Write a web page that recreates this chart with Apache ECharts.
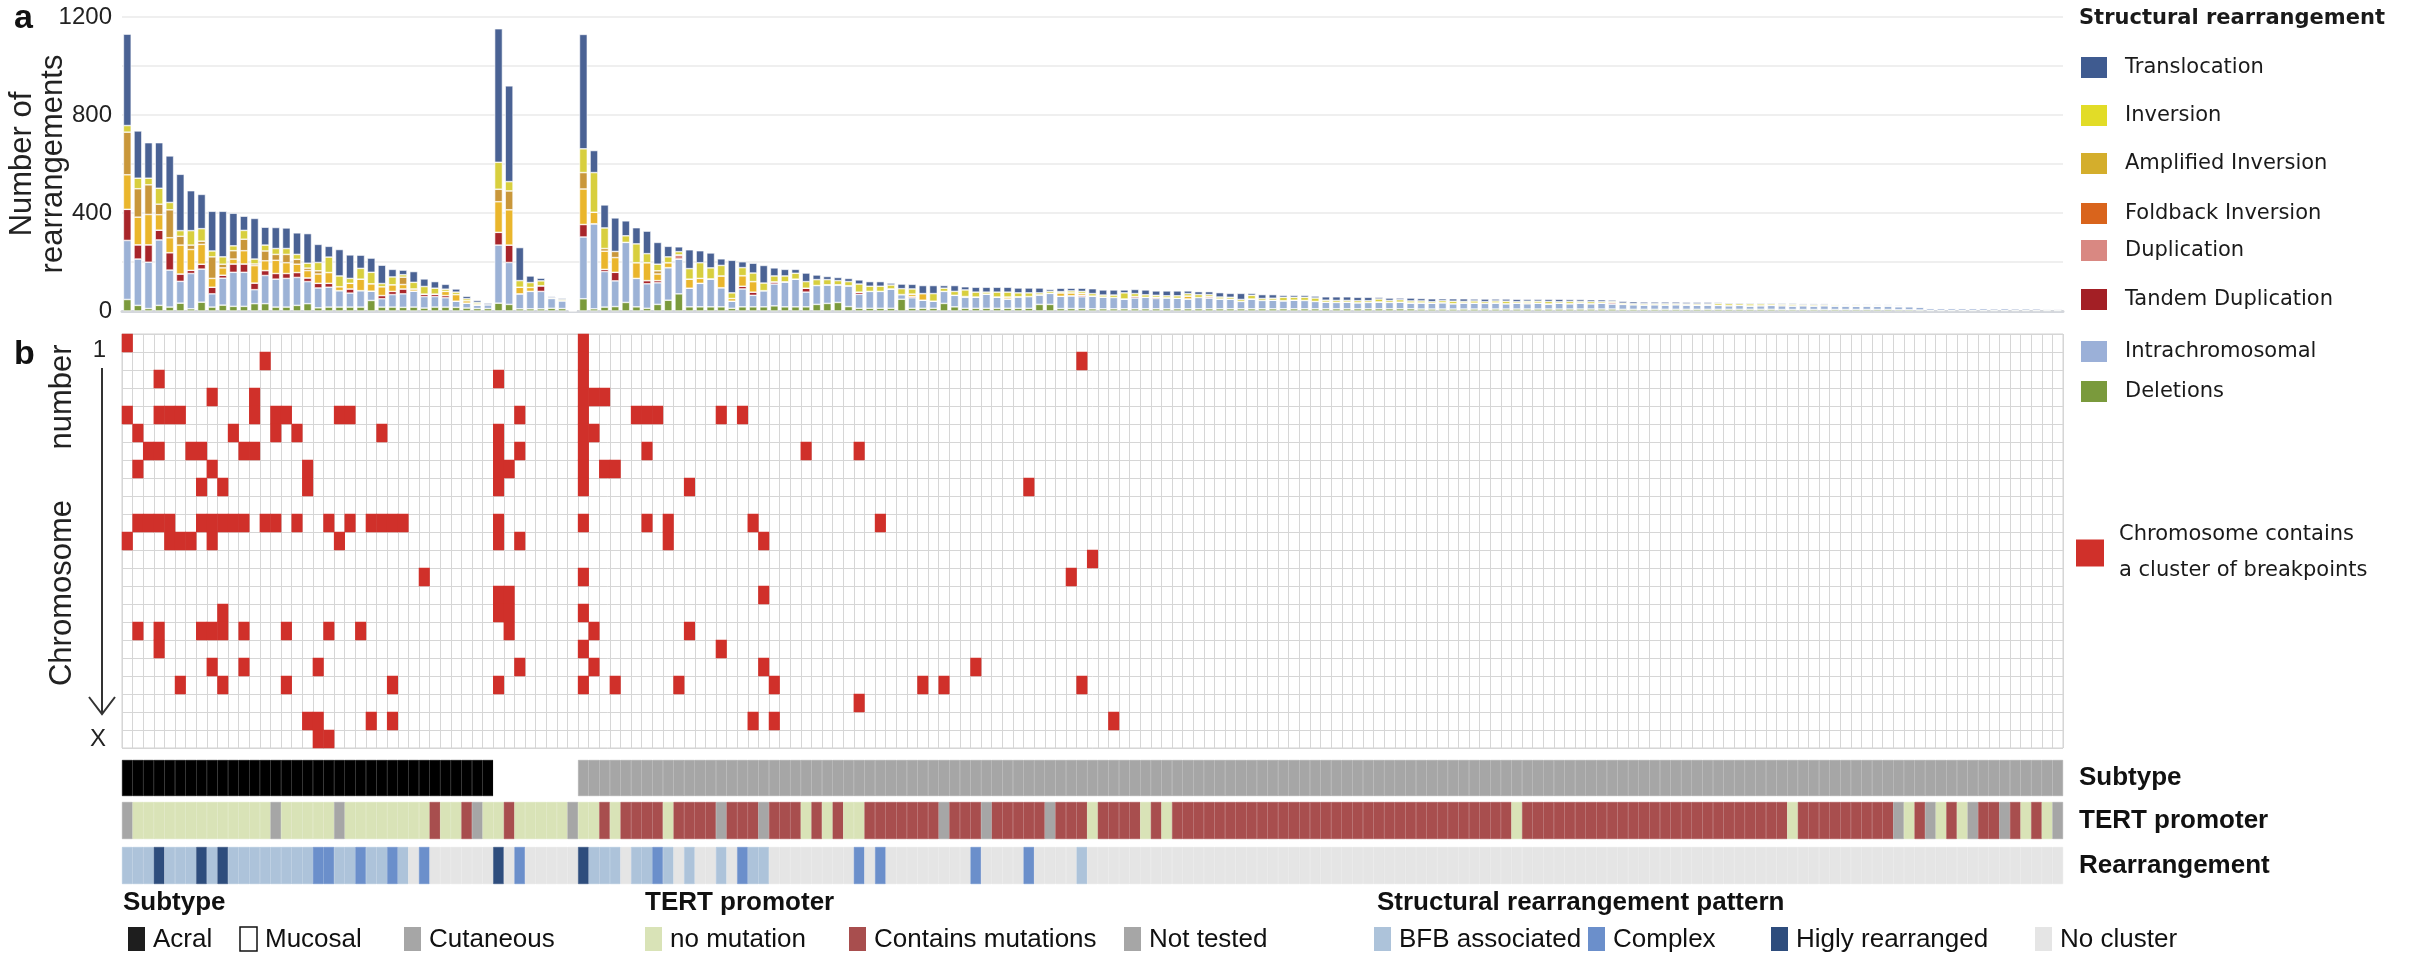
<!DOCTYPE html>
<html>
<head>
<meta charset="utf-8">
<script src="https://cdn.jsdelivr.net/npm/echarts/dist/echarts.min.js"></script>
<style>
  html, body { margin: 0; padding: 0; background: #fff; }
  #chart { width: 2433px; height: 956px; }
</style>
</head>
<body>
<div id="chart"></div>
<script>
// ---- samples (columns) and chromosomes (rows) ----
const sampleCount = 183;
const samples = Array.from({ length: sampleCount }, (_, i) => 'M' + String(i + 1).padStart(3, '0'));
const chromosomes = ['1','2','3','4','5','6','7','8','9','10','11','12','13','14','15','16','17','18','19','20','21','22','X'];

// ---- panel a: rearrangement counts per sample, one array per class ----
const deletions = [
  47,23,10,23,16,32,9,36,16,24, 19,19,30,30,16,16,23,30,13,16, 16,16,16,43,16,16,15,16,12,16, 16,15,12,10,10,
  32,27,9,9,9,11,10,0,
  50,9,16,18,35,17,11,
  27,44,70,17,17,17,17,11,17,17, 17,21,17,17,17,27,31,35,18,11, 11,11,11,48,11,11,11,31,17,11, 11,11,11,11,11,11,27,27,10,10,
  10,9,9,9,9,9,9,9,9,9, 9,9,9,9,9,9,9,9,9,9, 9,9,9,9,9,9,9,9,9,9, 9,9,8,8,8,8,8,8,8,8,
  8,8,8,8,8,8,8,8,8,8, 8,7,7,7,7,7,7,7,7,7, 7,7,7,7,7,7,6,6,6,6, 6,6,6,6,6,6,6,5,5,4,
  3,3,3,3,3,3,3,3,3,3,3,3,3
];
const intrachromosomal = [
  241,189,189,267,151,89,144,135,54,110, 139,139,57,115,114,117,114,90,81,81, 67,57,67,38,34,51,55,65,47,43, 38,25,20,14,16,
  237,171,61,71,71,40,32,3,
  252,347,145,105,245,116,100,
  88,133,142,76,96,114,78,29,73,47, 66,89,102,113,60,77,76,72,85,57, 69,69,79,19,43,33,29,49,47,45, 46,58,46,38,47,48,39,45,50,52,
  48,52,48,46,40,44,47,42,45,43, 40,46,44,40,39,30,40,34,35,33, 35,34,30,27,26,27,25,26,28,26, 27,24,25,24,26,22,25,24,23,25,
  22,24,22,24,21,24,22,25,22,24, 20,20,19,18,19,18,19,18,17,18, 16,15,16,14,15,16,16,15,16,15, 16,15,15,14,15,14,15,13,13,13,
  9,8,9,8,8,8,7,8,7,7,7,6,6
];
const tandemDuplication = [
  127,58,71,40,71,30,13,20,27,12, 34,34,27,20,23,20,20,15,19,16, 0,17,0,0,13,13,20,0,10,10, 9,0,0,0,0,
  52,71,0,0,23,0,0,0,
  51,0,9,35,0,0,13,
  9,0,0,0,0,0,0,0,11,13, 0,9,0,0,16,0,0,0,0,9, 0,0,0,0,5,0,0,0,0,3, 0,0,0,0,0,0,0,0,0,0,
  6,0,0,0,0,6,0,5,0,0, 0,0,0,0,0,0,0,0,0,0, 0,0,0,0,0,0,0,0,0,0, 0,0,0,0,0,0,0,0,0,0,
  0,0,0,0,0,0,0,0,0,0, 6,0,0,0,0,0,0,0,0,0, 0,0,0,0,0,0,0,0,0,0, 0,0,0,0,0,0,0,0,0,0,
  0,0,0,0,0,0,0,0,0,0,0,0,0
];
const duplication = [
  0,0,0,0,0,0,0,0,0,0, 0,0,0,0,0,0,0,0,0,0, 0,0,0,0,0,0,0,0,0,0, 0,0,0,0,0,
  0,0,0,0,0,0,0,0,
  0,0,0,0,0,0,0,
  0,0,17,0,0,0,0,0,0,0, 0,0,0,0,0,0,0,0,0,0, 0,0,0,0,0,0,0,0,0,0, 0,0,0,0,0,0,0,0,0,0,
  0,0,0,0,0,0,0,0,0,0, 0,0,6,0,0,0,0,0,0,0, 0,0,0,0,0,0,0,0,0,0, 0,0,0,0,0,0,0,0,0,0,
  0,0,0,0,0,0,0,0,0,0, 0,0,0,0,0,0,0,0,0,0, 0,0,0,0,0,0,0,0,0,0, 0,0,0,0,0,0,0,0,0,0,
  0,0,0,0,0,0,0,0,0,0,0,0,0
];
const foldbackInversion = [
  141,113,124,63,61,118,85,81,36,30, 20,54,71,40,54,44,34,30,38,44, 16,23,47,30,36,27,18,9,0,0, 17,27,10,5,0,
  125,144,27,16,0,0,0,0,
  145,47,74,60,0,64,73,
  27,20,0,37,20,0,48,11,43,43, 0,0,0,0,0,0,0,0,0,0, 0,0,0,0,10,27,0,0,0,0, 0,0,0,8,0,0,0,0,14,12,
  8,0,0,0,0,0,0,0,0,0, 12,0,0,0,0,0,0,0,0,0, 0,0,0,0,0,0,0,0,0,0, 0,0,0,0,0,0,0,0,0,0,
  0,0,4,0,0,0,0,0,0,0, 0,0,0,0,0,0,0,0,0,0, 0,0,0,0,0,0,0,0,0,0, 0,0,0,0,0,0,0,0,0,0,
  0,0,0,0,0,0,0,0,0,0,0,0,0
];
const amplifiedInversion = [
  174,116,121,43,114,36,18,13,88,15, 34,47,7,40,24,34,20,10,13,0, 0,0,0,0,0,0,30,0,0,0, 0,0,0,0,0,
  51,77,0,0,0,0,0,0,
  67,0,11,25,0,0,0,
  13,0,0,0,0,0,0,0,0,0, 0,0,0,0,0,0,0,0,0,0, 0,0,0,0,0,0,0,0,0,0, 0,0,0,0,0,0,0,0,0,0,
  0,0,0,0,0,0,0,0,0,0, 0,0,0,0,0,0,0,0,0,0, 0,0,0,0,0,0,0,0,0,0, 0,0,0,0,0,0,0,0,0,0,
  0,0,0,0,0,0,0,0,0,0, 0,0,0,0,0,0,0,0,0,0, 0,0,0,0,0,0,0,0,0,0, 0,0,0,0,0,0,0,0,0,0,
  0,0,0,0,0,0,0,0,0,0,0,0,0
];
const inversion = [
  27,43,27,65,30,23,59,51,24,30, 20,36,20,24,24,24,20,20,34,63, 44,20,44,47,13,32,10,27,31,24, 9,10,8,6,0,
  110,38,27,20,20,3,5,0,
  97,162,84,0,27,77,37,
  27,24,13,43,64,45,43,23,33,35, 31,24,24,24,27,24,21,17,17,33, 21,21,16,24,21,0,31,13,16,27, 20,8,20,20,16,15,8,8,5,8,
  8,10,8,10,25,12,10,8,8,10, 10,12,8,8,8,8,15,8,8,14, 12,13,14,8,8,7,8,7,12,8, 10,8,8,6,8,10,6,9,7,8,
  10,6,6,8,10,6,9,6,8,6, 5,5,4,5,4,5,4,4,5,4, 8,8,7,8,7,6,5,6,4,5, 4,4,3,4,3,3,2,2,2,1,
  0,1,0,0,1,0,0,1,0,1,0,0,1
];
const translocation = [
  373,193,145,186,190,230,163,140,162,186, 133,58,166,73,86,84,88,121,74,44, 108,96,54,58,75,31,19,44,31,27, 20,13,10,8,6,
  545,391,135,27,11,5,5,0,
  467,90,94,137,61,66,92,
  89,43,20,77,49,61,27,133,24,40, 72,33,27,16,35,19,13,13,13,17, 19,19,8,19,19,33,33,11,24,13, 20,20,20,20,20,20,20,8,14,11,
  13,20,21,21,12,17,20,18,20,20, 11,12,12,18,16,25,8,16,15,8, 8,8,8,14,15,15,14,14,7,10, 7,12,10,12,8,10,11,8,11,8,
  9,10,8,8,9,10,8,8,8,8, 6,8,8,7,7,7,7,7,7,7, 4,4,4,4,4,4,4,4,4,4, 4,3,3,3,3,3,3,3,2,2,
  2,1,1,2,0,1,2,0,1,0,1,1,0
];

// ---- panel b: [sample index, chromosome index] cells holding a breakpoint cluster ----
const clusterCells = [
  [0,0],[43,0],
  [13,1],[43,1],[90,1],
  [3,2],[35,2],[43,2],
  [8,3],[12,3],[43,3],[44,3],[45,3],
  [0,4],[3,4],[4,4],[5,4],[12,4],[14,4],[15,4],[20,4],[21,4],[37,4],[43,4],[48,4],[49,4],[50,4],[56,4],[58,4],
  [1,5],[10,5],[14,5],[16,5],[24,5],[35,5],[43,5],[44,5],
  [2,6],[3,6],[6,6],[7,6],[11,6],[12,6],[35,6],[37,6],[43,6],[49,6],[64,6],[69,6],
  [1,7],[8,7],[17,7],[35,7],[36,7],[43,7],[45,7],[46,7],
  [7,8],[9,8],[17,8],[35,8],[43,8],[53,8],[85,8],
  [1,10],[2,10],[3,10],[4,10],[7,10],[8,10],[9,10],[10,10],[11,10],[13,10],[14,10],[16,10],[19,10],[21,10],
  [23,10],[24,10],[25,10],[26,10],[35,10],[43,10],[49,10],[51,10],[59,10],[71,10],
  [0,11],[4,11],[5,11],[6,11],[8,11],[20,11],[35,11],[37,11],[51,11],[60,11],
  [91,12],
  [28,13],[43,13],[89,13],
  [35,14],[36,14],[60,14],
  [9,15],[35,15],[36,15],[43,15],
  [1,16],[3,16],[7,16],[8,16],[9,16],[11,16],[15,16],[19,16],[22,16],[36,16],[44,16],[53,16],
  [3,17],[43,17],[56,17],
  [8,18],[11,18],[18,18],[37,18],[44,18],[60,18],[80,18],
  [5,19],[9,19],[15,19],[25,19],[35,19],[43,19],[46,19],[52,19],[61,19],[75,19],[77,19],[90,19],
  [69,20],
  [17,21],[18,21],[23,21],[25,21],[59,21],[61,21],[93,21],
  [18,22],[19,22]
];

// ---- annotation tracks, stored as runs of [category, number of samples] ----
const subtypeRuns = [['Acral',35],['Mucosal',8],['Cutaneous',140]];
const tertRuns = [
  ['nt',1],['no',13],['nt',1],['no',5],['nt',1],['no',8],['mut',1],['no',2],['mut',1],['nt',1],['no',2],['mut',1],['no',5],['nt',1],
  ['no',2],['mut',1],['no',1],['mut',4],['no',1],['mut',4],['nt',1],['mut',3],['nt',1],['mut',3],['no',1],['mut',1],['no',1],['mut',1],
  ['no',2],['mut',7],['nt',1],['mut',3],['nt',1],['mut',5],['nt',1],['mut',3],['no',1],['mut',4],['no',1],['mut',1],['no',1],['mut',32],
  ['no',1],['mut',25],['no',1],['mut',9],['nt',1],['no',1],['mut',1],['nt',1],['no',1],['mut',1],['no',1],['nt',1],['mut',2],['nt',1],
  ['mut',1],['no',1],['mut',1],['no',1],['nt',1]
];
const patternRuns = [
  ['bfb',3],['high',1],['bfb',3],['high',1],['bfb',1],['high',1],['bfb',8],['cx',2],['bfb',2],['cx',1],['bfb',2],['cx',1],['bfb',1],
  ['none',1],['cx',1],['none',6],['high',1],['none',1],['cx',1],['none',5],['high',1],['bfb',3],['none',1],['bfb',2],['cx',1],['bfb',1],
  ['none',1],['bfb',1],['none',2],['bfb',1],['none',1],['cx',1],['bfb',2],['none',8],['cx',1],['none',1],['cx',1],['none',8],['cx',1],
  ['none',4],['cx',1],['none',4],['bfb',1],['none',92]
];

// ---- styling ----
const classOrder = ['Deletions','Intrachromosomal','Tandem Duplication','Duplication','Foldback Inversion','Amplified Inversion','Inversion','Translocation'];
const classValues = {
  'Deletions': deletions, 'Intrachromosomal': intrachromosomal, 'Tandem Duplication': tandemDuplication,
  'Duplication': duplication, 'Foldback Inversion': foldbackInversion, 'Amplified Inversion': amplifiedInversion,
  'Inversion': inversion, 'Translocation': translocation
};
const barColor = {
  'Deletions': '#7b9a3c', 'Intrachromosomal': '#9cb2d6', 'Tandem Duplication': '#a8252a', 'Duplication': '#d98a82',
  'Foldback Inversion': '#eab62c', 'Amplified Inversion': '#c9973a', 'Inversion': '#d8cf3e', 'Translocation': '#4a6294'
};
const keyColor = {
  'Deletions': '#7a9a3c', 'Intrachromosomal': '#9bb0d8', 'Tandem Duplication': '#a31f25', 'Duplication': '#d98882',
  'Foldback Inversion': '#d9641c', 'Amplified Inversion': '#d4ae2c', 'Inversion': '#e2dc27', 'Translocation': '#3f5b90'
};
const keyCenters = { 'Translocation': 67, 'Inversion': 115, 'Amplified Inversion': 163, 'Foldback Inversion': 213,
  'Duplication': 250, 'Tandem Duplication': 299, 'Intrachromosomal': 351, 'Deletions': 391 };
const subtypeColor = { 'Acral': '#000000', 'Mucosal': '#ffffff', 'Cutaneous': '#a6a6a6' };
const tertColor = { no: '#d9e3b7', mut: '#a84e4e', nt: '#a6a6a6' };
const patternColor = { bfb: '#adc3da', cx: '#6b8fcb', high: '#2e4d7d', none: '#e5e5e5' };
const clusterRed = '#d0302a';
const SANS = 'Liberation Sans, Arial, sans-serif';
const WIDE = 'DejaVu Sans, Verdana, sans-serif';

function expandRuns(runs) {
  const out = [];
  runs.forEach(([cat, n]) => { for (let k = 0; k < n; k++) out.push(cat); });
  return out;
}
function trackSeries(idx, cats, colors) {
  return {
    type: 'bar', xAxisIndex: idx, yAxisIndex: idx, silent: true, barCategoryGap: '0%',
    data: cats.map(c => ({ value: 1, itemStyle: { color: colors[c], borderColor: colors[c], borderWidth: 0.5 } }))
  };
}

const GL = 122, GR = 370;
const hiddenAxis = { axisLine: { show: false }, axisTick: { show: false }, axisLabel: { show: false }, splitLine: { show: false } };

const grids = [
  { left: GL, right: GR, top: 17, height: 294 },
  { left: GL, right: GR, top: 334, height: 414, show: true, borderColor: '#d3d3d3', borderWidth: 1 },
  { left: GL, right: GR, top: 760, height: 36 },
  { left: GL, right: GR, top: 802, height: 37 },
  { left: GL, right: GR, top: 847, height: 37 }
].map(g => Object.assign({ outerBoundsMode: 'none', containLabel: false }, g));

const xAxes = [
  { type: 'category', gridIndex: 0, data: samples, axisLine: { show: true, lineStyle: { color: '#d4d7dc', width: 3 } },
    axisTick: { show: false }, axisLabel: { show: false }, splitLine: { show: false } },
  { type: 'category', gridIndex: 1, data: samples, axisLine: { show: false }, axisTick: { show: false }, axisLabel: { show: false },
    splitLine: { show: true, interval: 0, lineStyle: { color: '#d6d6d6', width: 1 } } },
  Object.assign({ type: 'category', gridIndex: 2, data: samples }, hiddenAxis),
  Object.assign({ type: 'category', gridIndex: 3, data: samples }, hiddenAxis),
  Object.assign({ type: 'category', gridIndex: 4, data: samples }, hiddenAxis)
];

function trackAxis(idx, name) {
  return Object.assign({
    type: 'value', gridIndex: idx, min: 0, max: 1, position: 'right',
    name: name, nameLocation: 'middle', nameRotate: 0, nameGap: 16, nameMoveOverlap: false,
    nameTextStyle: { fontFamily: SANS, fontWeight: 'bold', fontSize: 26, color: '#111', align: 'left', verticalAlign: 'middle' }
  }, hiddenAxis);
}

const yAxes = [
  { type: 'value', gridIndex: 0, min: 0, max: 1200, interval: 200,
    name: 'Number of\nrearrangements', nameLocation: 'middle', nameRotate: 90, nameGap: 84, nameMoveOverlap: false,
    nameTextStyle: { fontFamily: SANS, fontSize: 31, lineHeight: 31, color: '#222', align: 'center', verticalAlign: 'middle' },
    axisLine: { show: false }, axisTick: { show: false },
    axisLabel: { fontFamily: SANS, fontSize: 24, color: '#222', margin: 10, formatter: v => (v % 400 === 0 ? String(v) : '') },
    splitLine: { show: true, lineStyle: { color: '#efefef', width: 2 } } },
  { type: 'category', gridIndex: 1, data: chromosomes, inverse: true,
    axisLine: { show: false }, axisTick: { show: false },
    axisLabel: { interval: (i) => i === 0 || i === chromosomes.length - 1, fontFamily: SANS, fontSize: 24, color: '#222', margin: 16,
      formatter: v => (v === '1' ? '{first|1}' : v),
      rich: { first: { fontFamily: SANS, fontSize: 24, color: '#222', padding: [14, 0, 0, 0] } } },
    splitLine: { show: true, interval: 0, lineStyle: { color: '#d6d6d6', width: 1 } } },
  trackAxis(2, 'Subtype'),
  trackAxis(3, 'TERT promoter'),
  trackAxis(4, 'Rearrangement')
];

const series = classOrder.map(name => ({
  name: name, type: 'bar', stack: 'rearrangements', xAxisIndex: 0, yAxisIndex: 0,
  barCategoryGap: '26%', data: classValues[name],
  itemStyle: { color: barColor[name], borderColor: '#ffffff', borderWidth: 0.6 }
}));
series.push({
  name: 'Chromosome contains a cluster of breakpoints', type: 'heatmap', xAxisIndex: 1, yAxisIndex: 1,
  data: clusterCells.map(([c, r]) => [c, r, 1]), itemStyle: { color: clusterRed }
});
series.push(trackSeries(2, expandRuns(subtypeRuns), subtypeColor));
series.push(trackSeries(3, expandRuns(tertRuns), tertColor));
series.push(trackSeries(4, expandRuns(patternRuns), patternColor));

const legendText = { fontFamily: WIDE, fontSize: 21, color: '#1a1a1a', padding: [0, 0, 0, 12] };
const legends = classOrder.slice().reverse().map(name => ({
  left: 2079, top: keyCenters[name] - 12, padding: 0, icon: 'rect', itemWidth: 28, itemHeight: 23,
  data: [{ name: name, itemStyle: { color: keyColor[name] } }], textStyle: legendText
}));
legends.push({
  left: 2076, top: 517, padding: 0, icon: 'rect', itemWidth: 28, itemHeight: 27,
  data: [{ name: 'Chromosome contains a cluster of breakpoints', itemStyle: { color: clusterRed } }],
  formatter: () => 'Chromosome contains\na cluster of breakpoints',
  textStyle: Object.assign({}, legendText, { lineHeight: 36, padding: [0, 0, 0, 10] })
});

// ---- keys for the annotation tracks ----
const trackKeys = [
  { title: 'Subtype', tx: 123, items: [
    { label: 'Acral', x: 128, fill: '#1e1e1e' },
    { label: 'Mucosal', x: 240, fill: '#ffffff', stroke: '#111' },
    { label: 'Cutaneous', x: 404, fill: '#a6a6a6' } ] },
  { title: 'TERT promoter', tx: 645, items: [
    { label: 'no mutation', x: 645, fill: '#d9e3b7' },
    { label: 'Contains mutations', x: 849, fill: '#a84e4e' },
    { label: 'Not tested', x: 1124, fill: '#a6a6a6' } ] },
  { title: 'Structural rearrangement pattern', tx: 1377, items: [
    { label: 'BFB associated', x: 1374, fill: '#adc3da' },
    { label: 'Complex', x: 1588, fill: '#6b8fcb' },
    { label: 'Higly rearranged', x: 1771, fill: '#2e4d7d' },
    { label: 'No cluster', x: 2035, fill: '#e5e5e5' } ] }
];

const graphics = [
  { type: 'text', x: 14, y: 2, style: { text: 'a', fontFamily: SANS, fontWeight: 'bold', fontSize: 34, fill: '#111' } },
  { type: 'text', x: 14, y: 338, style: { text: 'b', fontFamily: SANS, fontWeight: 'bold', fontSize: 34, fill: '#111' } },
  { type: 'text', x: 62, y: 397, rotation: Math.PI / 2,
    style: { text: 'number', fontFamily: SANS, fontSize: 31, fill: '#222', align: 'center', verticalAlign: 'middle' } },
  { type: 'text', x: 62, y: 593, rotation: Math.PI / 2,
    style: { text: 'Chromosome', fontFamily: SANS, fontSize: 31, fill: '#222', align: 'center', verticalAlign: 'middle' } },
  { type: 'polyline', shape: { points: [[102, 368], [102, 714]] }, style: { stroke: '#333', lineWidth: 2, fill: null } },
  { type: 'polyline', shape: { points: [[89, 697], [102, 714], [115, 697]] }, style: { stroke: '#333', lineWidth: 2, fill: null } },
  { type: 'text', x: 2079, y: 19, style: { text: 'Structural rearrangement', fontFamily: WIDE, fontWeight: 'bold', fontSize: 21,
    fill: '#1a1a1a', verticalAlign: 'middle' } }
];
trackKeys.forEach(group => {
  graphics.push({ type: 'text', x: group.tx, y: 903, style: { text: group.title, fontFamily: SANS, fontWeight: 'bold',
    fontSize: 26, fill: '#111', verticalAlign: 'middle' } });
  group.items.forEach(it => {
    graphics.push({ type: 'rect', shape: { x: it.x, y: 927, width: 17, height: 24 },
      style: { fill: it.fill, stroke: it.stroke || null, lineWidth: it.stroke ? 1.5 : 0 } });
    graphics.push({ type: 'text', x: it.x + 25, y: 940, style: { text: it.label, fontFamily: SANS, fontSize: 26,
      fill: '#111', verticalAlign: 'middle' } });
  });
});

const chart = echarts.init(document.getElementById('chart'), null, { renderer: 'canvas' });
chart.setOption({
  animation: false,
  backgroundColor: '#ffffff',
  textStyle: { fontFamily: SANS },
  grid: grids,
  xAxis: xAxes,
  yAxis: yAxes,
  legend: legends,
  series: series,
  graphic: graphics
});
</script>
</body>
</html>
